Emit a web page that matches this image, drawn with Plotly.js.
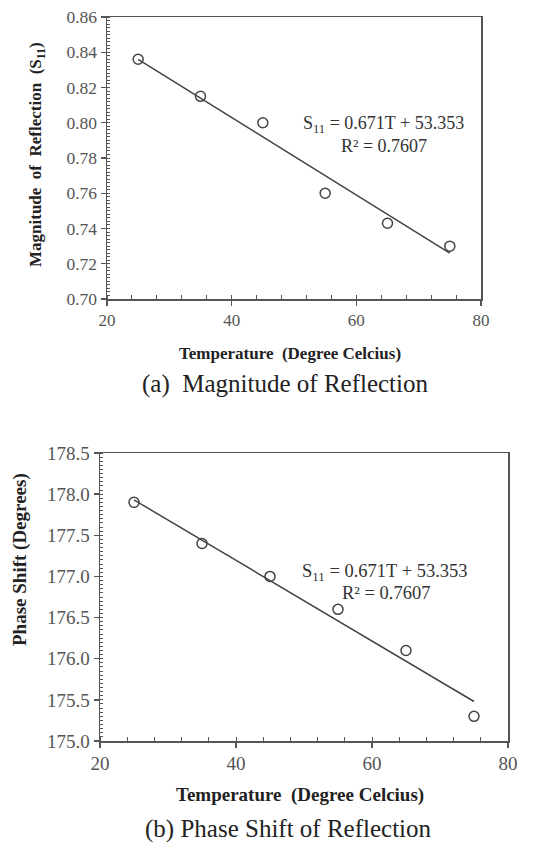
<!DOCTYPE html>
<html><head><meta charset="utf-8">
<script src="https://cdn.plot.ly/plotly-3.0.1.min.js"></script>
<style>body{margin:0;background:#fff}#c{width:543px;height:847px}</style>
</head><body><div id="c"></div>
<script>
// Data
var temperature = [25, 35, 45, 55, 65, 75];
var magnitude = [0.836, 0.815, 0.800, 0.760, 0.743, 0.730];
var magTrendX = [25, 75];
var magTrendY = [0.836, 0.726];
var phase = [177.9, 177.4, 177.0, 176.6, 176.1, 175.3];
var phaseTrendX = [25, 75];
var phaseTrendY = [177.93, 175.48];
var xTicks = [20, 40, 60, 80];
var magTicks = [0.70, 0.72, 0.74, 0.76, 0.78, 0.80, 0.82, 0.84, 0.86];
var phaseTicks = [175.0, 175.5, 176.0, 176.5, 177.0, 177.5, 178.0, 178.5];

var serif = "Liberation Serif, serif";
var axCol = "#555";

function xax(domain, anchor, fs) {
  return {domain: domain, anchor: anchor, range: [20, 80], tickmode: "array", tickvals: xTicks,
    ticktext: xTicks.map(String), showgrid: false, zeroline: false,
    showline: true, linecolor: axCol, linewidth: 1.5, mirror: true,
    ticks: "outside", ticklen: 5, tickwidth: 1.3, tickcolor: axCol,
    tickfont: {family: serif, size: fs, color: "#555"},
    minor: {dtick: 4, tick0: 20, ticks: "inside", ticklen: 4, tickwidth: 1, tickcolor: axCol, showgrid: false}};
}
function yax(domain, anchor, range, vals, fmt, minorD, fs) {
  return {domain: domain, anchor: anchor, range: range, tickmode: "array", tickvals: vals,
    ticktext: vals.map(function(v){return v.toFixed(fmt);}), showgrid: false, zeroline: false,
    showline: true, linecolor: axCol, linewidth: 1.5, mirror: true,
    ticks: "outside", ticklen: 5, tickwidth: 1.3, tickcolor: axCol,
    tickfont: {family: serif, size: fs, color: "#555"},
    minor: {dtick: minorD, tick0: range[0], ticks: "inside", ticklen: 3, tickwidth: 1, tickcolor: axCol, showgrid: false}};
}

var markerStyle = {symbol: "circle-open", size: 10, color: "#444", line: {width: 1.5, color: "#444"}};
var lineStyle = {color: "#444", width: 1.5};

var data = [
  {x: magTrendX, y: magTrendY, xaxis: "x", yaxis: "y", mode: "lines", line: lineStyle, hoverinfo: "skip"},
  {x: temperature, y: magnitude, xaxis: "x", yaxis: "y", mode: "markers", marker: markerStyle},
  {x: phaseTrendX, y: phaseTrendY, xaxis: "x2", yaxis: "y2", mode: "lines", line: lineStyle, hoverinfo: "skip"},
  {x: temperature, y: phase, xaxis: "x2", yaxis: "y2", mode: "markers", marker: markerStyle}
];

function ann(x, y, text, font, angle) {
  var a = {xref: "paper", yref: "paper", x: x / 543, y: 1 - y / 847, text: text, showarrow: false,
    xanchor: "center", yanchor: "middle", font: font};
  if (angle) a.textangle = angle;
  return a;
}
var eqFontA = {family: serif, size: 18, color: "#333"};
var eqFontB = {family: serif, size: 18.5, color: "#333"};
var titleA = {family: serif, size: 17, color: "#222", weight: "bold"};
var titleB = {family: serif, size: 19, color: "#222", weight: "bold"};
var capFont = {family: serif, size: 25, color: "#222"};

var layout = {
  width: 543, height: 847, margin: {l: 0, r: 0, t: 0, b: 0},
  font: {family: serif, color: "#333"},
  paper_bgcolor: "#fff", plot_bgcolor: "#fff", showlegend: false,
  xaxis: xax([107/543, 481/543], "y", 17),
  yaxis: yax([1 - 299/847, 1 - 17/847], "x", [0.70, 0.86], magTicks, 2, 0.002, 17.5),
  xaxis2: xax([100/543, 508/543], "y2", 19),
  yaxis2: yax([1 - 741/847, 1 - 453/847], "x2", [175.0, 178.5], phaseTicks, 1, 0.05, 19),
  annotations: [
    ann(383, 125, "S<sub>11</sub> = 0.671T + 53.353", eqFontA),
    ann(384, 146, "R² = 0.7607", eqFontA),
    ann(385, 572, "S<sub>11</sub> = 0.671T + 53.353", eqFontB),
    ann(386, 593, "R² = 0.7607", eqFontB),
    ann(290, 353, "Temperature  (Degree Celcius)", titleA),
    ann(300, 795, "Temperature  (Degree Celcius)", titleB),
    ann(37, 155, "Magnitude  of  Reflection  (S<sub>11</sub>)", titleA, -90),
    ann(20, 560, "Phase Shift (Degrees)", titleB, -90),
    ann(285, 384, "(a)  Magnitude of Reflection", capFont),
    ann(288, 829, "(b) Phase Shift of Reflection", capFont)
  ]
};
Plotly.newPlot("c", data, layout, {staticPlot: true});
</script></body></html>
